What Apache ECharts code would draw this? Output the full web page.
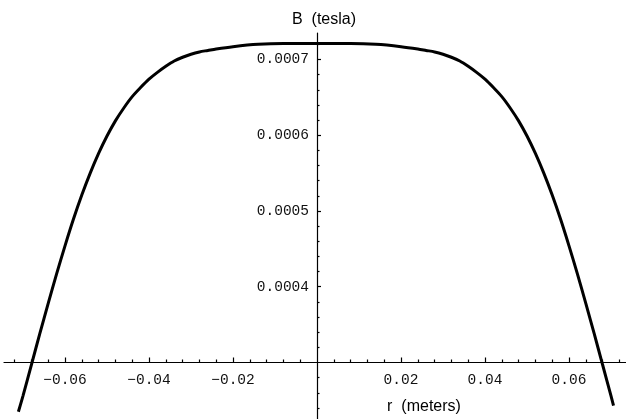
<!DOCTYPE html>
<html>
<head>
<meta charset="utf-8">
<script src="https://cdn.jsdelivr.net/npm/echarts@6/dist/echarts.min.js"></script>
<style>
html,body{margin:0;padding:0;background:#fff;}
#chart{width:626px;height:419px;}
</style>
</head>
<body>
<div id="chart"></div>
<script>
// r (meters)
const rValues = [-0.0711, -0.0700, -0.0680, -0.0660, -0.0640, -0.0620, -0.0600, -0.0580, -0.0560, -0.0540,
  -0.0520, -0.0500, -0.0480, -0.0460, -0.0440, -0.0420, -0.0400, -0.0380, -0.0360, -0.0340,
  -0.0320, -0.0300, -0.0280, -0.0260, -0.0240, -0.0200, -0.0140, -0.0080, 0,
  0.0080, 0.0140, 0.0200, 0.0240, 0.0260, 0.0280, 0.0300, 0.0320, 0.0340, 0.0360,
  0.0380, 0.0400, 0.0420, 0.0440, 0.0460, 0.0480, 0.0500, 0.0520, 0.0540, 0.0560,
  0.0580, 0.0600, 0.0620, 0.0640, 0.0660, 0.0680, 0.0700, 0.0706];
// B (tesla)
const bValues = [0.000235, 0.000256, 0.000297, 0.000338, 0.000378, 0.000417, 0.000454, 0.000489, 0.000521, 0.000550,
  0.000576, 0.000599, 0.000619, 0.000636, 0.000651, 0.000663, 0.000674, 0.000683, 0.000691, 0.000698,
  0.000703, 0.000707, 0.000710, 0.000712, 0.000714, 0.000717, 0.000720, 0.000721, 0.000721,
  0.000721, 0.000720, 0.000717, 0.000714, 0.000712, 0.000710, 0.000707, 0.000703, 0.000698, 0.000691,
  0.000683, 0.000674, 0.000663, 0.000651, 0.000636, 0.000619, 0.000599, 0.000576, 0.000550, 0.000521,
  0.000489, 0.000454, 0.000417, 0.000378, 0.000338, 0.000297, 0.000256, 0.000243];

const xMajorTicks = [-0.06, -0.04, -0.02, 0.02, 0.04, 0.06];
const xMinorTicks = [-0.072, -0.068, -0.064, -0.056, -0.052, -0.048, -0.044, -0.036, -0.032, -0.028,
  -0.024, -0.016, -0.012, -0.008, -0.004, 0.004, 0.008, 0.012, 0.016, 0.024,
  0.028, 0.032, 0.036, 0.044, 0.048, 0.052, 0.056, 0.064, 0.068, 0.072];
const yMajorTicks = [0.0004, 0.0005, 0.0006, 0.0007];
const yMinorTicks = [0.00024, 0.00026, 0.00028, 0.00032, 0.00034, 0.00036, 0.00038,
  0.00042, 0.00044, 0.00046, 0.00048, 0.00052, 0.00054, 0.00056, 0.00058,
  0.00062, 0.00064, 0.00066, 0.00068, 0.00072];

const xTitle = 'r  (meters)';
const yTitle = 'B  (tesla)';

const X_MIN = -0.074524, X_MAX = 0.073571, X_CROSS = 0;
const Y_MIN = 0.0002254, Y_MAX = 0.000735, Y_CROSS = 0.0003;

const chart = echarts.init(document.getElementById('chart'), null, {renderer: 'canvas'});
const gridLeft = 4, gridRight = 0, gridTop = 33, gridBottom = 0, chartW = 626, chartH = 419;
const plotW = chartW - gridLeft - gridRight;
const plotH = chartH - gridTop - gridBottom;
const xAxisOffset = -((Y_CROSS - Y_MIN) / (Y_MAX - Y_MIN)) * plotH;
const yAxisOffset = -((X_CROSS - X_MIN) / (X_MAX - X_MIN)) * plotW;

const monoFont = '"Liberation Mono", "DejaVu Sans Mono", monospace';
const sansFont = '"Liberation Sans", Arial, sans-serif';
const fmtX = v => (v < 0 ? '\u2212' : '') + Math.abs(v).toFixed(2);
const fmtY = v => v.toFixed(4);

const lineStyle = {color: '#000', width: 1.2};

chart.setOption({
  animation: false,
  backgroundColor: '#fff',
  grid: {left: gridLeft, right: gridRight, top: gridTop, bottom: gridBottom, containLabel: false, outerBoundsMode: 'none'},
  xAxis: [{
    type: 'value', min: X_MIN, max: X_MAX, position: 'bottom', offset: xAxisOffset,
    axisLine: {show: true, onZero: false, lineStyle: lineStyle},
    axisTick: {show: true, inside: true, length: 5, lineStyle: lineStyle, customValues: xMajorTicks},
    axisLabel: {show: true, customValues: xMajorTicks, formatter: fmtX, margin: 10,
      fontFamily: monoFont, fontSize: 14.5, color: '#111'},
    splitLine: {show: false},
    name: xTitle, nameLocation: 'middle', nameGap: 36,
    nameTextStyle: {fontFamily: sansFont, fontSize: 16, color: '#000', padding: [0, 0, 0, 218]}
  }, {
    type: 'value', min: X_MIN, max: X_MAX, position: 'bottom', offset: xAxisOffset,
    axisLine: {show: false, onZero: false},
    axisTick: {show: true, inside: true, length: 3, lineStyle: lineStyle, customValues: xMinorTicks},
    axisLabel: {show: false},
    splitLine: {show: false}
  }],
  yAxis: [{
    type: 'value', min: Y_MIN, max: Y_MAX, position: 'left', offset: yAxisOffset,
    axisLine: {show: true, onZero: false, lineStyle: lineStyle},
    axisTick: {show: true, inside: true, length: 4, lineStyle: lineStyle, customValues: yMajorTicks},
    axisLabel: {show: true, customValues: yMajorTicks, formatter: fmtY, margin: 8,
      fontFamily: monoFont, fontSize: 14.5, color: '#111', padding: [4, 0, 0, 0]},
    splitLine: {show: false},
    name: yTitle, nameLocation: 'end', nameGap: 5,
    nameTextStyle: {fontFamily: sansFont, fontSize: 16, color: '#000', padding: [0, 0, 0, 14]}
  }, {
    type: 'value', min: Y_MIN, max: Y_MAX, position: 'left', offset: yAxisOffset,
    axisLine: {show: false, onZero: false},
    axisTick: {show: true, inside: true, length: 2.5, lineStyle: lineStyle, customValues: yMinorTicks},
    axisLabel: {show: false},
    splitLine: {show: false}
  }],
  series: [{
    type: 'line',
    data: rValues.map((r, i) => [r, bValues[i]]),
    showSymbol: false,
    smooth: 0.3,
    lineStyle: {color: '#000', width: 3},
    silent: true,
    clip: false
  }]
});
</script>
</body>
</html>
